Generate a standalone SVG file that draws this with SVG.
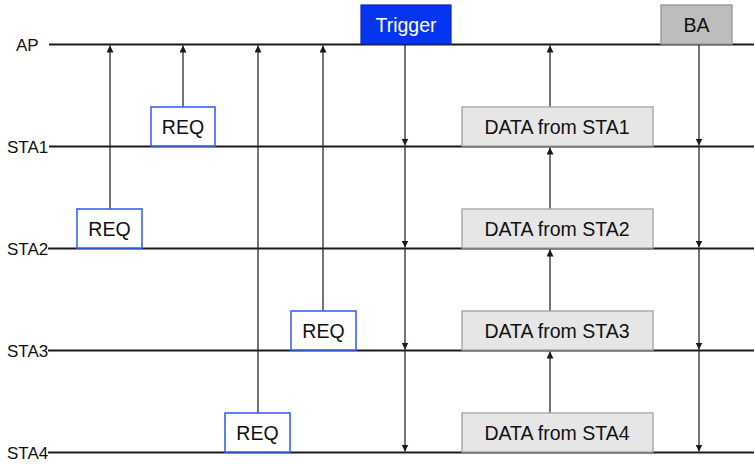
<svg xmlns="http://www.w3.org/2000/svg" width="754" height="464" viewBox="0 0 754 464">
  <style>
    .lane { stroke: #1a1a1a; stroke-width: 2; fill: none; }
    .lbl { font-family: "Liberation Sans", Arial, sans-serif; font-size: 17px; fill: #111; }
    .txt { font-family: "Liberation Sans", Arial, sans-serif; font-size: 19.5px; fill: #111; text-anchor: middle; }
    .req { fill: #ffffff; stroke: #3a63f0; stroke-width: 1.6; }
    .data { fill: #e6e6e6; stroke: #a8a8a8; stroke-width: 1.4; }
    .trig { fill: #0635f2; stroke: #0a28b8; stroke-width: 1.2; }
    .ba { fill: #bdbdbd; stroke: #9a9a9a; stroke-width: 1.4; }
    .arr { stroke: #2a2a2a; stroke-width: 1.3; fill: none; marker-end: url(#head); }
  </style>
  <defs>
    <marker id="head" viewBox="0 0 10 10" refX="10" refY="5" markerWidth="7" markerHeight="7" markerUnits="userSpaceOnUse" orient="auto">
      <path d="M0,0 L10,5 L0,10 z" fill="#1a1a1a"/>
    </marker>
  </defs>

  <!-- station timelines -->
  <g id="timelines">
    <line class="lane" x1="49" y1="44.5" x2="754" y2="44.5"/>
    <line class="lane" x1="49" y1="146.5" x2="754" y2="146.5"/>
    <line class="lane" x1="48" y1="248.5" x2="754" y2="248.5"/>
    <line class="lane" x1="48" y1="350.5" x2="754" y2="350.5"/>
    <line class="lane" x1="48" y1="452.5" x2="754" y2="452.5"/>
    <text class="lbl" x="16" y="50.5">AP</text>
    <text class="lbl" x="7" y="152.5">STA1</text>
    <text class="lbl" x="7" y="254.5">STA2</text>
    <text class="lbl" x="7" y="356.5">STA3</text>
    <text class="lbl" x="7" y="458.5">STA4</text>
  </g>

  <!-- connectors -->
  <g id="connectors">
    <!-- requests up to the AP -->
    <line class="arr" x1="110" y1="209" x2="110" y2="45.5"/>
    <line class="arr" x1="183" y1="107" x2="183" y2="45.5"/>
    <line class="arr" x1="258" y1="413" x2="258" y2="45.5"/>
    <line class="arr" x1="323" y1="311" x2="323" y2="45.5"/>
    <!-- trigger down to every station -->
    <line class="arr" x1="405" y1="45" x2="405" y2="145.5"/>
    <line class="arr" x1="405" y1="147" x2="405" y2="247.5"/>
    <line class="arr" x1="405" y1="249" x2="405" y2="349.5"/>
    <line class="arr" x1="405" y1="351" x2="405" y2="451.5"/>
    <!-- data relayed upward -->
    <line class="arr" x1="550" y1="107" x2="550" y2="45.5"/>
    <line class="arr" x1="550" y1="209" x2="550" y2="147.5"/>
    <line class="arr" x1="550" y1="311" x2="550" y2="249.5"/>
    <line class="arr" x1="550" y1="413" x2="550" y2="351.5"/>
    <!-- block ack down to every station -->
    <line class="arr" x1="699" y1="45" x2="699" y2="145.5"/>
    <line class="arr" x1="699" y1="147" x2="699" y2="247.5"/>
    <line class="arr" x1="699" y1="249" x2="699" y2="349.5"/>
    <line class="arr" x1="699" y1="351" x2="699" y2="451.5"/>
  </g>

  <g id="req-sta1">
    <rect class="req" x="151" y="107" width="64" height="39"/>
    <text class="txt" x="183" y="134">REQ</text>
  </g>
  <g id="req-sta2">
    <rect class="req" x="77" y="209" width="65" height="39"/>
    <text class="txt" x="109.5" y="236">REQ</text>
  </g>
  <g id="req-sta3">
    <rect class="req" x="291" y="311" width="65" height="39"/>
    <text class="txt" x="323.5" y="338">REQ</text>
  </g>
  <g id="req-sta4">
    <rect class="req" x="225" y="413" width="65" height="39"/>
    <text class="txt" x="257.5" y="440">REQ</text>
  </g>

  <g id="trigger">
    <rect class="trig" x="361" y="5" width="90" height="39"/>
    <text class="txt" x="406" y="31.5" style="fill:#ffffff">Trigger</text>
  </g>

  <g id="ba">
    <rect class="ba" x="661" y="5" width="71" height="39"/>
    <text class="txt" x="696.5" y="31.5">BA</text>
  </g>

  <g id="data-sta1">
    <rect class="data" x="462" y="107" width="191" height="39"/>
    <text class="txt" x="557" y="134">DATA from STA1</text>
  </g>
  <g id="data-sta2">
    <rect class="data" x="462" y="209" width="191" height="39"/>
    <text class="txt" x="557" y="236">DATA from STA2</text>
  </g>
  <g id="data-sta3">
    <rect class="data" x="462" y="311" width="191" height="39"/>
    <text class="txt" x="557" y="338">DATA from STA3</text>
  </g>
  <g id="data-sta4">
    <rect class="data" x="462" y="413" width="191" height="39"/>
    <text class="txt" x="557" y="440">DATA from STA4</text>
  </g>
</svg>
